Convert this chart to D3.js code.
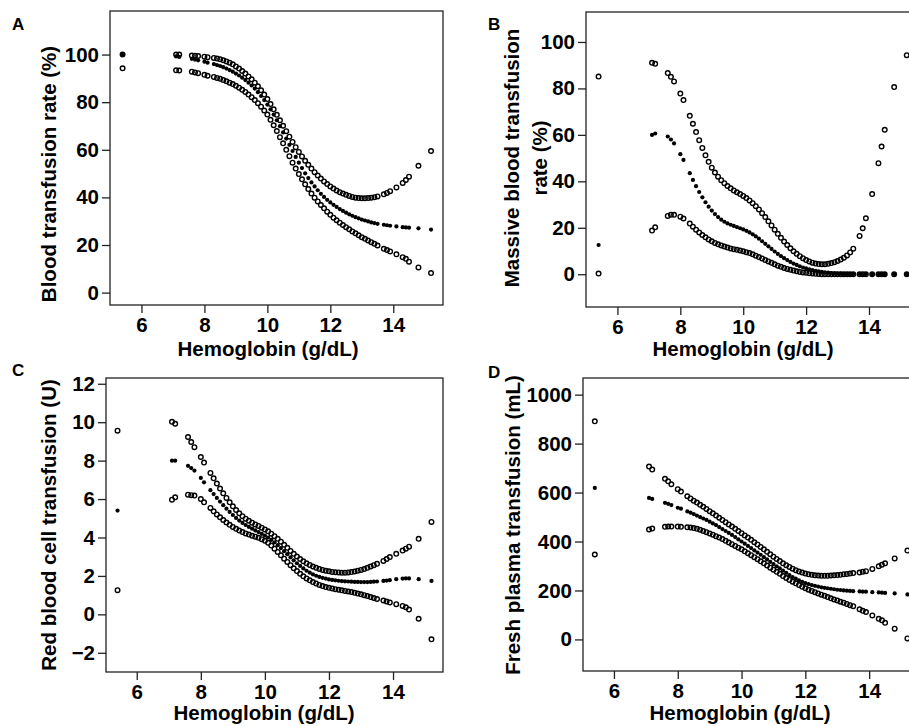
<!DOCTYPE html>
<html>
<head>
<meta charset="utf-8">
<script src="https://cdn.jsdelivr.net/npm/d3@7"></script>
<style>
  body { margin: 0; background: #fff; }
  svg text { font-family: "Liberation Sans", Arial, sans-serif; font-weight: bold; fill: #000; }
</style>
</head>
<body>
<script>
// hemoglobin values (g/dL), shared by all four panels
var hgb = [5.4, 7.1, 7.2, 7.6, 7.7, 7.8, 8.0, 8.1,
  8.3, 8.4, 8.5, 8.6, 8.7, 8.8, 8.9, 9.0, 9.1, 9.2, 9.3, 9.4, 9.5, 9.6, 9.7, 9.8, 9.9,
  10.0, 10.1, 10.2, 10.3, 10.4, 10.5, 10.6, 10.7, 10.8, 10.9, 11.0, 11.1, 11.2, 11.3, 11.4, 11.5, 11.6, 11.7, 11.8, 11.9,
  12.0, 12.1, 12.2, 12.3, 12.4, 12.5, 12.6, 12.7, 12.8, 12.9, 13.0, 13.1, 13.2, 13.3, 13.4, 13.5,
  13.7, 13.8, 13.9, 14.1, 14.3, 14.4, 14.5, 14.8, 15.2];

// A - blood transfusion rate (%)
var transUpper = [100, 100, 100, 99.6, 99.5, 99.4, 99.1, 98.9,
  98.6, 98.3, 98.0, 97.6, 97.1, 96.6, 95.9, 95.0, 94.1, 93.1, 92.0, 90.8, 89.6, 88.2, 86.7, 85.0, 83.2,
  81.3, 79.2, 77.0, 74.7, 72.4, 70.1, 67.8, 65.5, 63.3, 61.1, 59.1, 57.2, 55.4, 53.7, 52.1, 50.6, 49.2, 47.9, 46.7, 45.6,
  44.6, 43.7, 42.9, 42.2, 41.6, 41.1, 40.6, 40.2, 39.9, 39.7, 39.6, 39.6, 39.7, 39.9, 40.1, 40.4,
  41.3, 41.9, 42.6, 44.2, 46.1, 47.3, 48.7, 53.3, 59.5];
var transEst = [100, 99.2, 99.0, 98.2, 97.9, 97.6, 97.0, 96.6,
  96.0, 95.6, 95.2, 94.7, 94.1, 93.5, 92.8, 92.0, 91.2, 90.3, 89.3, 88.2, 87.0, 85.7, 84.2, 82.6, 80.9,
  79.0, 77.0, 74.8, 72.4, 69.9, 67.3, 64.7, 62.1, 59.5, 57.0, 54.6, 52.3, 50.1, 48.1, 46.3, 44.6, 43.0, 41.5, 40.2, 39.0,
  37.9, 36.9, 36.0, 35.1, 34.3, 33.6, 32.9, 32.3, 31.7, 31.2, 30.7, 30.3, 29.9, 29.5, 29.2, 28.9,
  28.5, 28.3, 28.1, 27.8, 27.5, 27.4, 27.3, 27.0, 26.5];
var transLower = [94.2, 93.4, 93.3, 92.8, 92.5, 92.2, 91.5, 91.1,
  90.6, 90.2, 89.8, 89.3, 88.8, 88.2, 87.6, 86.9, 86.1, 85.2, 84.3, 83.2, 82.1, 80.9, 79.6, 78.1, 76.5,
  74.8, 72.6, 70.3, 67.9, 65.3, 62.7, 60.0, 57.3, 54.6, 52.1, 49.8, 47.6, 45.5, 43.5, 41.6, 39.9, 38.3, 36.8, 35.4, 34.0,
  32.7, 31.5, 30.4, 29.4, 28.4, 27.5, 26.6, 25.7, 24.9, 24.1, 23.3, 22.6, 21.9, 21.2, 20.5, 19.8,
  18.4, 17.9, 17.3, 16.1, 14.9, 14.2, 13.0, 10.6, 8.2];

// B - massive blood transfusion rate (%)
var massUpper = [85.1, 91.0, 90.6, 86.6, 85.0, 83.0, 77.8, 75.0,
  68.2, 64.8, 61.2, 57.7, 54.4, 51.2, 48.4, 45.9, 43.8, 42.0, 40.5, 39.2, 38.0, 37.0, 36.1, 35.3, 34.5,
  33.7, 32.8, 31.8, 30.6, 29.3, 27.9, 26.3, 24.6, 22.8, 21.0, 19.2, 17.4, 15.7, 14.1, 12.6, 11.2, 9.9, 8.8, 7.8, 6.9,
  6.1, 5.5, 5.0, 4.6, 4.4, 4.3, 4.3, 4.5, 4.8, 5.2, 5.7, 6.3, 7.1, 8.1, 9.4, 11.0,
  16.5, 19.8, 24.1, 34.5, 47.8, 55.0, 62.2, 80.6, 94.3];
var massEst = [12.6, 60.0, 60.6, 59.3, 58.0, 56.3, 51.7, 49.2,
  43.5, 40.6, 37.9, 35.4, 33.1, 31.0, 29.1, 27.4, 25.9, 24.6, 23.5, 22.6, 21.9, 21.3, 20.8, 20.3, 19.8,
  19.3, 18.7, 18.0, 17.2, 16.3, 15.3, 14.2, 13.1, 12.0, 10.9, 9.8, 8.8, 7.8, 6.9, 6.1, 5.3, 4.6, 4.0, 3.4, 2.9,
  2.5, 2.1, 1.8, 1.5, 1.2, 1.0, 0.8, 0.7, 0.5, 0.4, 0.3, 0.3, 0.2, 0.2, 0.1, 0.1,
  0.1, 0.1, 0.1, 0, 0, 0, 0, 0, 0];
var massLower = [0.3, 18.8, 20.2, 25.1, 25.6, 25.6, 24.8, 24.0,
  21.8, 20.5, 19.2, 18.0, 16.9, 15.9, 15.0, 14.2, 13.5, 12.9, 12.4, 11.9, 11.5, 11.1, 10.8, 10.5, 10.2,
  9.9, 9.5, 9.1, 8.6, 8.0, 7.4, 6.8, 6.1, 5.5, 4.9, 4.3, 3.7, 3.2, 2.7, 2.3, 1.9, 1.6, 1.3, 1.0, 0.8,
  0.6, 0.4, 0.3, 0.2, 0.1, 0, 0, 0, 0, 0, 0, 0, 0, 0, 0, 0,
  0, 0, 0, 0, 0, 0, 0, 0, 0];

// C - red blood cell transfusion (U)
var rbcUpper = [9.56, 10.02, 9.92, 9.23, 8.97, 8.7, 8.19, 7.9,
  7.36, 7.08, 6.81, 6.55, 6.3, 6.06, 5.83, 5.62, 5.43, 5.26, 5.11, 4.98, 4.87, 4.77, 4.68, 4.6, 4.51,
  4.42, 4.32, 4.2, 4.07, 3.93, 3.78, 3.62, 3.46, 3.3, 3.15, 3.01, 2.88, 2.76, 2.66, 2.57, 2.49, 2.42, 2.36, 2.31, 2.27,
  2.24, 2.21, 2.19, 2.18, 2.17, 2.17, 2.18, 2.2, 2.23, 2.27, 2.31, 2.36, 2.42, 2.49, 2.56, 2.63,
  2.78, 2.88, 2.98, 3.15, 3.32, 3.42, 3.52, 3.93, 4.81];
var rbcEst = [5.4, 8.0, 8.0, 7.73, 7.61, 7.48, 7.1, 6.87,
  6.46, 6.26, 6.06, 5.87, 5.68, 5.5, 5.33, 5.17, 5.02, 4.88, 4.76, 4.65, 4.55, 4.46, 4.37, 4.28, 4.19,
  4.1, 4.0, 3.88, 3.75, 3.6, 3.45, 3.29, 3.13, 2.97, 2.81, 2.66, 2.52, 2.39, 2.27, 2.17, 2.08, 2.01, 1.95, 1.9, 1.86,
  1.82, 1.79, 1.77, 1.75, 1.73, 1.72, 1.71, 1.7, 1.69, 1.69, 1.68, 1.68, 1.68, 1.69, 1.7, 1.71,
  1.74, 1.76, 1.78, 1.83, 1.86, 1.87, 1.87, 1.83, 1.74];
var rbcLower = [1.26, 5.97, 6.09, 6.23, 6.2, 6.18, 6.0, 5.83,
  5.54, 5.36, 5.2, 5.05, 4.91, 4.78, 4.66, 4.55, 4.45, 4.36, 4.28, 4.21, 4.15, 4.09, 4.04, 3.98, 3.91,
  3.83, 3.72, 3.58, 3.42, 3.25, 3.07, 2.9, 2.73, 2.56, 2.4, 2.25, 2.11, 1.98, 1.87, 1.77, 1.68, 1.6, 1.53, 1.47, 1.42,
  1.38, 1.34, 1.31, 1.28, 1.25, 1.22, 1.19, 1.16, 1.12, 1.08, 1.04, 1.0, 0.95, 0.9, 0.85, 0.8,
  0.72, 0.67, 0.62, 0.53, 0.44, 0.37, 0.25, -0.23, -1.3];

// D - fresh plasma transfusion (mL)
var plasmaUpper = [891, 706, 694, 656, 646, 634, 614, 604,
  585, 576, 567, 559, 550, 542, 533, 524, 515, 506, 497, 488, 479, 470, 461, 452, 443,
  434, 425, 416, 407, 397, 388, 378, 368, 358, 348, 338, 329, 320, 311, 303, 296, 289, 283, 278, 273,
  269, 266, 264, 262, 261, 260, 260, 260, 261, 262, 263, 264, 266, 267, 269, 271,
  273, 276, 279, 288, 299, 305, 311, 331, 363];
var plasmaEst = [619, 578, 574, 558, 554, 549, 538, 534,
  523, 518, 512, 506, 500, 494, 488, 481, 474, 467, 459, 451, 443, 435, 427, 418, 409,
  400, 391, 382, 373, 364, 355, 346, 336, 327, 317, 308, 299, 290, 281, 272, 263, 255, 248, 241, 235,
  230, 226, 222, 219, 216, 213, 211, 209, 207, 205, 203, 202, 200, 199, 198, 197,
  196, 195, 195, 193, 192, 191, 190, 188, 184];
var plasmaLower = [347, 449, 453, 460, 461, 461, 461, 460,
  458, 457, 455, 452, 448, 443, 438, 433, 428, 422, 416, 410, 403, 396, 389, 382, 375,
  368, 360, 352, 344, 336, 328, 319, 311, 302, 293, 285, 276, 268, 259, 251, 243, 236, 229, 222, 215,
  209, 203, 198, 193, 188, 183, 178, 173, 168, 163, 159, 154, 150, 145, 140, 136,
  123, 117, 112, 98, 84, 78, 68, 44, 4];

// tick labels
var xTicks = [6, 8, 10, 12, 14];
var transTicks = [0, 20, 40, 60, 80, 100];
var massTicks = [0, 20, 40, 60, 80, 100];
var rbcTicks = [-2, 0, 2, 4, 6, 8, 10, 12];
var plasmaTicks = [0, 200, 400, 600, 800, 1000];

var svg = d3.select('body').append('svg')
  .attr('width', 909)
  .attr('height', 726);

svg.append('rect').attr('width', 909).attr('height', 726).attr('fill', '#fff');

var panels = [
  {letter: 'A', lx: 12, ly: 30, left: 110, top: 11, right: 443, bottom: 305,
   xDomain: [5.0, 15.58], yDomain: [-5.2, 118.3], yTicks: transTicks,
   upper: transUpper, est: transEst, lower: transLower,
   ytitle: ['Blood transfusion rate (%)'], ytx: [50], yty: 174, xtx: 268, xty: 356},
  {letter: 'B', lx: 488, ly: 30, left: 586, top: 12, right: 919, bottom: 307,
   xDomain: [5.0, 15.59], yDomain: [-14.1, 112.9], yTicks: massTicks,
   upper: massUpper, est: massEst, lower: massLower,
   ytitle: ['Massive blood transfusion', 'rate (%)'], ytx: [513, 541], yty: 158, xtx: 743, xty: 356},
  {letter: 'C', lx: 12, ly: 376, left: 106, top: 378, right: 443, bottom: 672,
   xDomain: [5.04, 15.56], yDomain: [-3.0, 12.3], yTicks: rbcTicks,
   upper: rbcUpper, est: rbcEst, lower: rbcLower,
   ytitle: ['Red blood cell transfusion (U)'], ytx: [50], yty: 525, xtx: 264, xty: 720},
  {letter: 'D', lx: 488, ly: 378, left: 583, top: 378, right: 917, bottom: 671,
   xDomain: [5.03, 15.5], yDomain: [-129, 1068], yTicks: plasmaTicks,
   upper: plasmaUpper, est: plasmaEst, lower: plasmaLower,
   ytitle: ['Fresh plasma transfusion (mL)'], ytx: [514], yty: 525, xtx: 740, xty: 720}
];

panels.forEach(drawPanel);

function drawPanel(p) {
  var x = d3.scaleLinear().domain(p.xDomain).range([p.left, p.right]);
  var y = d3.scaleLinear().domain(p.yDomain).range([p.bottom, p.top]);
  var g = svg.append('g');

  var yAxis = d3.axisLeft(y).tickValues(p.yTicks).tickFormat(d3.format('d'))
    .tickSize(8).tickPadding(3);
  var xAxis = d3.axisBottom(x).tickValues(xTicks).tickFormat(d3.format('d'))
    .tickSize(8).tickPadding(4);

  var ya = g.append('g').attr('transform', 'translate(' + p.left + ',0)').call(yAxis);
  var xa = g.append('g').attr('transform', 'translate(0,' + p.bottom + ')').call(xAxis);
  [ya, xa].forEach(function(a) {
    a.select('.domain').remove();
    a.attr('font-size', null).attr('font-family', null);
    a.selectAll('line').attr('stroke', '#222').attr('stroke-width', 1.3);
    a.selectAll('text').style('font-size', '20.5px');
  });

  // box
  g.append('rect')
    .attr('x', p.left).attr('y', p.top)
    .attr('width', p.right - p.left).attr('height', p.bottom - p.top)
    .attr('fill', 'none').attr('stroke', '#222').attr('stroke-width', 1.3);

  // CI bounds as open circles
  [p.upper, p.lower].forEach(function(arr) {
    g.append('g').selectAll('circle')
      .data(hgb.map(function(h, i) { return [h, arr[i]]; }))
      .enter().append('circle')
      .attr('cx', function(d) { return x(d[0]); })
      .attr('cy', function(d) { return y(d[1]); })
      .attr('r', 2.3)
      .attr('fill', 'none')
      .attr('stroke', '#000')
      .attr('stroke-width', 1.4);
  });

  // estimate as filled dots
  g.append('g').selectAll('circle')
    .data(hgb.map(function(h, i) { return [h, p.est[i]]; }))
    .enter().append('circle')
    .attr('cx', function(d) { return x(d[0]); })
    .attr('cy', function(d) { return y(d[1]); })
    .attr('r', 2.1)
    .attr('fill', '#000');

  // titles
  g.append('text')
    .attr('x', p.xtx).attr('y', p.xty)
    .attr('text-anchor', 'middle')
    .style('font-size', '20.5px')
    .text('Hemoglobin (g/dL)');

  p.ytitle.forEach(function(t, i) {
    g.append('text')
      .attr('transform', 'translate(' + p.ytx[i] + ',' + p.yty + ') rotate(-90)')
      .attr('y', 6)
      .attr('text-anchor', 'middle')
      .style('font-size', '20.5px')
      .text(t);
  });

  g.append('text')
    .attr('x', p.lx).attr('y', p.ly)
    .style('font-size', '17px')
    .text(p.letter);
}
</script>
</body>
</html>
